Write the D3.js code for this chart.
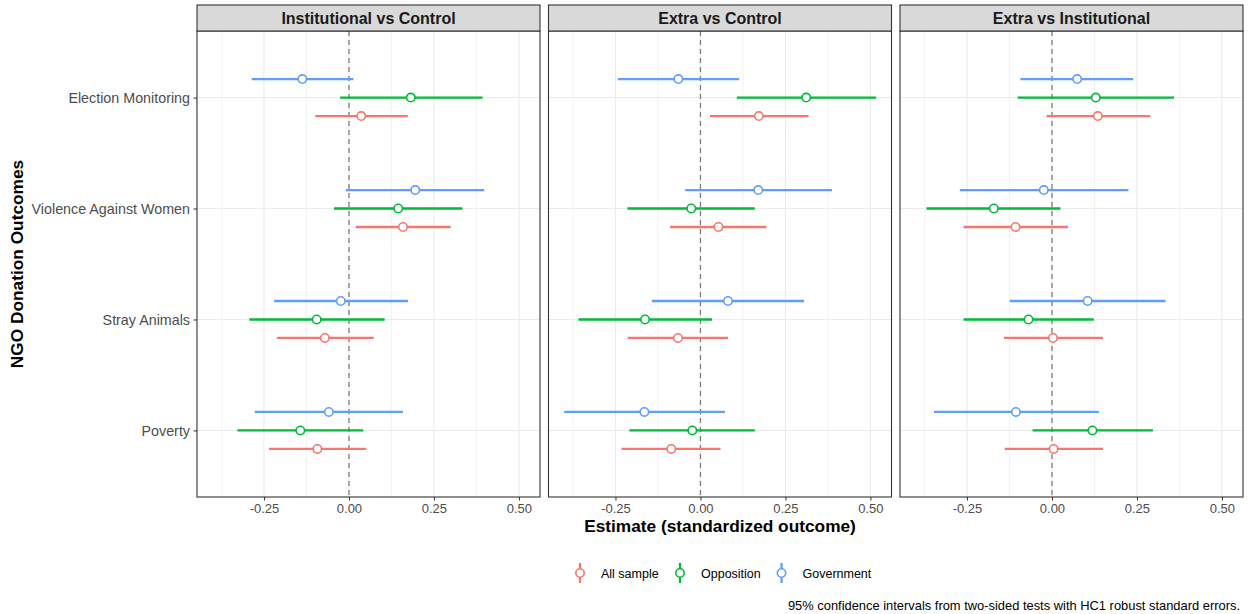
<!DOCTYPE html>
<html>
<head>
<meta charset="utf-8">
<script src="https://cdn.jsdelivr.net/npm/d3@7"></script>
<style>
  body { margin: 0; background: #fff; }
  text { font-family: "Liberation Sans", Arial, sans-serif; }
</style>
</head>
<body>
<div id="chart"></div>
<script>
// outcomes, top to bottom
const outcomes = ["Election Monitoring", "Violence Against Women", "Stray Animals", "Poverty"];
const groups = ["All sample", "Opposition", "Government"];
const groupColors = ["#F8766D", "#00BA38", "#619CFF"];
const contrasts = ["Institutional vs Control", "Extra vs Control", "Extra vs Institutional"];
const xTicks = [-0.25, 0, 0.25, 0.5];

// each array: [All sample, Opposition, Government], values in outcome order
const instEst = [[0.036, 0.159, -0.071, -0.093], [0.182, 0.145, -0.095, -0.143], [-0.137, 0.195, -0.024, -0.059]];
const instLo  = [[-0.099, 0.020, -0.212, -0.235], [-0.026, -0.044, -0.293, -0.328], [-0.286, -0.009, -0.220, -0.277]];
const instHi  = [[0.173, 0.299, 0.073, 0.051], [0.393, 0.334, 0.105, 0.042], [0.013, 0.398, 0.174, 0.159]];

const extraEst = [[0.172, 0.053, -0.066, -0.086], [0.311, -0.027, -0.163, -0.024], [-0.065, 0.170, 0.081, -0.165]];
const extraLo  = [[0.028, -0.089, -0.214, -0.232], [0.107, -0.215, -0.359, -0.209], [-0.243, -0.045, -0.143, -0.401]];
const extraHi  = [[0.318, 0.194, 0.081, 0.059], [0.517, 0.160, 0.034, 0.160], [0.114, 0.387, 0.305, 0.072]];

const eviEst = [[0.135, -0.107, 0.003, 0.005], [0.129, -0.171, -0.069, 0.119], [0.074, -0.024, 0.105, -0.106]];
const eviLo  = [[-0.016, -0.260, -0.141, -0.139], [-0.101, -0.369, -0.260, -0.057], [-0.093, -0.271, -0.124, -0.347]];
const eviHi  = [[0.289, 0.047, 0.150, 0.150], [0.359, 0.025, 0.123, 0.297], [0.239, 0.225, 0.334, 0.138]];

const panelEst = [instEst, extraEst, eviEst];
const panelLo = [instLo, extraLo, eviLo];
const panelHi = [instHi, extraHi, eviHi];

// layout
const W = 1250, H = 614;
const panelLeft = [197, 548.5, 900];
const panelW = 343;
const stripTop = 5, stripH = 26;
const plotTop = stripTop + stripH, plotBottom = 497;
const plotH = plotBottom - plotTop;

const svg = d3.select("#chart").append("svg")
  .attr("width", W).attr("height", H);

const x = d3.scaleLinear().domain([-0.447, 0.562]).range([0, panelW]);
const y = d3.scalePoint().domain(outcomes).range([0, plotH]).padding(0.6);
const dodge = d3.scalePoint().domain(["Government", "Opposition", "All sample"])
  .range([-y.step() / 6, y.step() / 6]);

const minorTicks = [-0.375, -0.125, 0.125, 0.375];
const fmt = d => d3.format(".2f")(d).replace("\u2212", "-");

contrasts.forEach(function (name, p) {
  const g = svg.append("g").attr("transform", `translate(${panelLeft[p]},${plotTop})`);

  // grid
  g.selectAll("line.minor").data(minorTicks).enter().append("line")
    .attr("x1", d => x(d)).attr("x2", d => x(d)).attr("y1", 0).attr("y2", plotH)
    .attr("stroke", "#EBEBEB").attr("stroke-width", 0.6);
  g.selectAll("line.major").data(xTicks).enter().append("line")
    .attr("x1", d => x(d)).attr("x2", d => x(d)).attr("y1", 0).attr("y2", plotH)
    .attr("stroke", "#EBEBEB").attr("stroke-width", 1.1);
  g.selectAll("line.hgrid").data(outcomes).enter().append("line")
    .attr("x1", 0).attr("x2", panelW).attr("y1", d => y(d)).attr("y2", d => y(d))
    .attr("stroke", "#EBEBEB").attr("stroke-width", 1.1);

  // zero reference
  g.append("line")
    .attr("x1", x(0)).attr("x2", x(0)).attr("y1", 0).attr("y2", plotH)
    .attr("stroke", "#7F7F7F").attr("stroke-width", 1.3).attr("stroke-dasharray", "5,4");

  // intervals and points
  const rows = [];
  groups.forEach(function (grp, gi) {
    outcomes.forEach(function (o, oi) {
      rows.push({ grp: grp, gi: gi, o: o,
        est: panelEst[p][gi][oi], lo: panelLo[p][gi][oi], hi: panelHi[p][gi][oi] });
    });
  });

  g.selectAll("line.ci").data(rows).enter().append("line")
    .attr("x1", d => x(d.lo)).attr("x2", d => x(d.hi))
    .attr("y1", d => y(d.o) + dodge(d.grp)).attr("y2", d => y(d.o) + dodge(d.grp))
    .attr("stroke", d => groupColors[d.gi]).attr("stroke-width", 2.3);

  g.selectAll("circle.pt").data(rows).enter().append("circle")
    .attr("cx", d => x(d.est)).attr("cy", d => y(d.o) + dodge(d.grp))
    .attr("r", 4.2).attr("fill", "#fff")
    .attr("stroke", d => groupColors[d.gi]).attr("stroke-width", 1.6);

  // panel border
  g.append("rect").attr("x", 0).attr("y", 0).attr("width", panelW).attr("height", plotH)
    .attr("fill", "none").attr("stroke", "#333333").attr("stroke-width", 1.1);

  // strip
  svg.append("rect").attr("x", panelLeft[p]).attr("y", stripTop).attr("width", panelW).attr("height", stripH)
    .attr("fill", "#D9D9D9").attr("stroke", "#333333").attr("stroke-width", 1.1);
  svg.append("text").attr("x", panelLeft[p] + panelW / 2).attr("y", stripTop + stripH / 2 + 5.6)
    .attr("text-anchor", "middle").attr("font-size", 16).attr("font-weight", "bold")
    .attr("fill", "#1A1A1A").text(name);

  // x axis
  const xAxis = g.append("g").attr("transform", `translate(0,${plotH})`)
    .call(d3.axisBottom(x).tickValues(xTicks).tickFormat(fmt).tickSize(3.5).tickPadding(3));
  xAxis.select(".domain").remove();
  xAxis.selectAll(".tick line").attr("stroke", "#333333");
  xAxis.selectAll(".tick text").attr("fill", "#4D4D4D").attr("font-size", 13)
    .attr("font-family", "Liberation Sans, Arial, sans-serif");

  if (p === 0) {
    const yAxis = g.append("g")
      .call(d3.axisLeft(y).tickSize(3.5).tickPadding(3.5));
    yAxis.select(".domain").remove();
    yAxis.selectAll(".tick line").attr("stroke", "#333333");
    yAxis.selectAll(".tick text").attr("fill", "#4D4D4D").attr("font-size", 14.3)
      .attr("font-family", "Liberation Sans, Arial, sans-serif");
  }
});

// axis titles
svg.append("text").attr("x", (panelLeft[0] + panelLeft[2] + panelW) / 2).attr("y", 532)
  .attr("text-anchor", "middle").attr("font-size", 17.3).attr("font-weight", "bold")
  .text("Estimate (standardized outcome)");
svg.append("text").attr("transform", `translate(23,${plotTop + plotH / 2}) rotate(-90)`)
  .attr("text-anchor", "middle").attr("font-size", 17.3).attr("font-weight", "bold")
  .text("NGO Donation Outcomes");

// legend
const legendX = [580, 680, 781.5];
const legend = svg.selectAll("g.legend").data(groups).enter().append("g")
  .attr("transform", (d, i) => `translate(${legendX[i]},573)`);
legend.append("line").attr("x1", 0).attr("x2", 0).attr("y1", -10).attr("y2", 10)
  .attr("stroke", (d, i) => groupColors[i]).attr("stroke-width", 2.3);
legend.append("circle").attr("r", 4.2).attr("fill", "#fff")
  .attr("stroke", (d, i) => groupColors[i]).attr("stroke-width", 1.6);
legend.append("text").attr("x", 21).attr("y", 4.5).attr("font-size", 12.5).attr("fill", "#000")
  .text(d => d);

// caption
svg.append("text").attr("x", 1240).attr("y", 610).attr("text-anchor", "end")
  .attr("font-size", 12.9).attr("fill", "#000")
  .text("95% confidence intervals from two-sided tests with HC1 robust standard errors.");
</script>
</body>
</html>
